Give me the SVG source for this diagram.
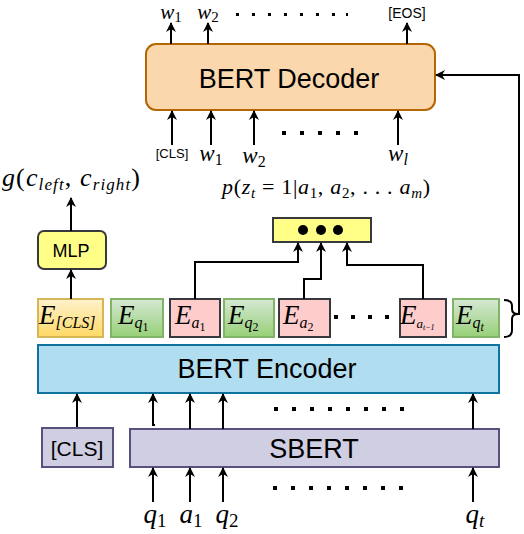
<svg xmlns="http://www.w3.org/2000/svg" width="524" height="534" viewBox="0 0 524 534">
<defs>
<marker id="ah" viewBox="0 0 10 10" refX="9" refY="5" markerWidth="10" markerHeight="10" markerUnits="userSpaceOnUse" orient="auto">
<path d="M0,0 L10,5 L0,10 L3,5 Z" fill="#000"/>
</marker>
<linearGradient id="gy" x1="0" y1="0" x2="0" y2="1"><stop offset="0" stop-color="#fff2cc"/><stop offset="1" stop-color="#ffd966"/></linearGradient>
<linearGradient id="gg" x1="0" y1="0" x2="0" y2="1"><stop offset="0" stop-color="#d5e8d4"/><stop offset="1" stop-color="#97d077"/></linearGradient>
</defs>
<style>
.ln{stroke:#000;stroke-width:2;fill:none}
.ar{stroke:#000;stroke-width:2;fill:none;marker-end:url(#ah)}
.sans{font-family:"Liberation Sans",Arial,sans-serif;fill:#000}
.m{font-family:"Liberation Serif","DejaVu Serif",serif;font-style:italic;fill:#000}
.mr{font-family:"Liberation Serif","DejaVu Serif",serif;font-style:normal}
.eg{fill:url(#gg);stroke:#82b366;stroke-width:2}
.ep{fill:#ffcccc;stroke:#36393d;stroke-width:2}
.dot{fill:#000}
</style>

<g id="decoder">
<rect x="146" y="44" width="289" height="66" rx="10" fill="#fad7ac" stroke="#b46504" stroke-width="2"/>
<text class="sans" x="289" y="88" font-size="27" text-anchor="middle">BERT Decoder</text>
</g>

<g id="decoder-outputs">
<text class="m" x="171" y="19" font-size="21" text-anchor="middle">w<tspan class="mr" font-size="15" dy="3">1</tspan></text>
<text class="m" x="208" y="19" font-size="21" text-anchor="middle">w<tspan class="mr" font-size="15" dy="3">2</tspan></text>
<text class="sans" x="407" y="18" font-size="14" text-anchor="middle">[EOS]</text>
<g class="dot">
<rect x="236" y="13" width="3" height="3"/><rect x="252" y="13" width="3" height="3"/><rect x="268" y="13" width="3" height="3"/><rect x="284" y="13" width="3" height="3"/><rect x="300" y="13" width="3" height="3"/><rect x="316" y="13" width="3" height="3"/><rect x="332" y="13" width="3" height="3"/><rect x="346" y="13" width="2" height="3"/>
</g>
</g>

<g id="decoder-inputs">
<text class="sans" x="172" y="158" font-size="13" text-anchor="middle">[CLS]</text>
<text class="m" x="211" y="161" font-size="23" text-anchor="middle">w<tspan class="mr" font-size="16" dy="4">1</tspan></text>
<text class="m" x="254" y="163" font-size="23" text-anchor="middle">w<tspan class="mr" font-size="16" dy="4">2</tspan></text>
<text class="m" x="398" y="161" font-size="23" text-anchor="middle">w<tspan font-size="16" dy="4">l</tspan></text>
<g class="dot">
<rect x="282" y="131" width="4" height="4"/><rect x="300" y="131" width="4" height="4"/><rect x="318" y="131" width="4" height="4"/><rect x="336" y="131" width="4" height="4"/><rect x="354" y="131" width="4" height="4"/>
</g>
</g>

<g id="prob-label">
<text class="m" x="222" y="194" font-size="22" textLength="208" lengthAdjust="spacing">p<tspan class="mr">(</tspan>z<tspan font-size="15" dy="4">t</tspan><tspan class="mr" dy="-4"> = 1|</tspan>a<tspan class="mr" font-size="15" dy="4">1</tspan><tspan class="mr" dy="-4">, </tspan>a<tspan class="mr" font-size="15" dy="4">2</tspan><tspan class="mr" dy="-4">, . . . </tspan>a<tspan font-size="15" dy="4">m</tspan><tspan class="mr" dy="-4">)</tspan></text>
</g>

<g id="g-label">
<text class="m" x="2" y="186" font-size="26" textLength="138" lengthAdjust="spacing">g<tspan class="mr">(</tspan>c<tspan font-size="17" dy="4">left</tspan><tspan class="mr" dy="-4">, </tspan>c<tspan font-size="17" dy="4">right</tspan><tspan class="mr" dy="-4">)</tspan></text>
</g>

<g id="mlp">
<rect x="38" y="231" width="68" height="38" rx="6" fill="#ffff88" stroke="#36393d" stroke-width="2"/>
<text class="sans" x="71" y="257" font-size="18" text-anchor="middle">MLP</text>
</g>

<g id="pool">
<rect x="273" y="218" width="98" height="24" fill="#ffff88" stroke="#36393d" stroke-width="2"/>
<circle cx="303" cy="230" r="5"/><circle cx="321" cy="230" r="5"/><circle cx="338" cy="230" r="5"/>
</g>

<g id="e-cls">
<rect x="38" y="299" width="65" height="38" fill="url(#gy)" stroke="#d6b656" stroke-width="2"/>
<text class="m" x="39" y="324" font-size="27">E<tspan font-size="16" dy="4">[CLS]</tspan></text>
</g>
<g id="e-q1">
<rect class="eg" x="111" y="299" width="52" height="38"/>
<text class="m" x="118" y="324" font-size="27">E<tspan font-size="16" dy="4">q</tspan><tspan class="mr" font-size="12" dy="3">1</tspan></text>
</g>
<g id="e-a1">
<rect class="ep" x="170" y="299" width="50" height="38"/>
<text class="m" x="175" y="324" font-size="27">E<tspan font-size="16" dy="4">a</tspan><tspan class="mr" font-size="12" dy="3">1</tspan></text>
</g>
<g id="e-q2">
<rect class="eg" x="224" y="299" width="50" height="38"/>
<text class="m" x="228" y="324" font-size="27">E<tspan font-size="16" dy="4">q</tspan><tspan class="mr" font-size="12" dy="3">2</tspan></text>
</g>
<g id="e-a2">
<rect class="ep" x="279" y="299" width="51" height="38"/>
<text class="m" x="283" y="324" font-size="27">E<tspan font-size="16" dy="4">a</tspan><tspan class="mr" font-size="12" dy="3">2</tspan></text>
</g>
<g id="e-dots" class="dot">
<rect x="334" y="315" width="4" height="4"/><rect x="351" y="315" width="4" height="4"/><rect x="368" y="315" width="4" height="4"/><rect x="385" y="315" width="4" height="4"/>
</g>
<g id="e-at1">
<rect class="ep" x="400" y="299" width="46" height="38"/>
<text class="m" x="400" y="324" font-size="27">E<tspan font-size="13" dy="4">a</tspan><tspan font-size="8" dy="2">t−1</tspan></text>
</g>
<g id="e-qt">
<rect class="eg" x="453" y="299" width="46" height="38"/>
<text class="m" x="456" y="324" font-size="27">E<tspan font-size="16" dy="4">q</tspan><tspan font-size="12" dy="3">t</tspan></text>
</g>
<g id="brace">
<path class="ln" d="M504,300 Q512,300 512,306 L512,309 Q512,314 518,314 Q512,314 512,319 L512,330 Q512,337 504,337"/>
</g>

<g id="encoder">
<rect x="38" y="345" width="461" height="48" fill="#b1ddf0" stroke="#10739e" stroke-width="2"/>
<text class="sans" x="267" y="378" font-size="27" text-anchor="middle">BERT Encoder</text>
</g>

<g id="cls-in">
<rect x="42" y="428" width="71" height="39" fill="#d0cee2" stroke="#56517e" stroke-width="2"/>
<text class="sans" x="77" y="456" font-size="21" text-anchor="middle">[CLS]</text>
</g>

<g id="sbert">
<rect x="130" y="429" width="369" height="38" fill="#d0cee2" stroke="#56517e" stroke-width="2"/>
<text class="sans" x="314" y="458" font-size="27" text-anchor="middle">SBERT</text>
</g>

<g id="inputs">
<text class="m" x="155" y="523" font-size="27" text-anchor="middle">q<tspan class="mr" font-size="19" dy="4">1</tspan></text>
<text class="m" x="191" y="523" font-size="27" text-anchor="middle">a<tspan class="mr" font-size="19" dy="4">1</tspan></text>
<text class="m" x="227" y="523" font-size="27" text-anchor="middle">q<tspan class="mr" font-size="19" dy="4">2</tspan></text>
<text class="m" x="475" y="523" font-size="27" text-anchor="middle">q<tspan font-size="19" dy="4">t</tspan></text>
<g class="dot">
<rect x="273" y="486" width="4" height="4"/><rect x="291" y="486" width="4" height="4"/><rect x="309" y="486" width="4" height="4"/><rect x="327" y="486" width="4" height="4"/><rect x="345" y="486" width="4" height="4"/><rect x="363" y="486" width="4" height="4"/><rect x="381" y="486" width="4" height="4"/><rect x="399" y="486" width="4" height="4"/>
</g>
<g class="dot">
<rect x="274" y="407" width="4" height="4"/><rect x="292" y="407" width="4" height="4"/><rect x="310" y="407" width="4" height="4"/><rect x="328" y="407" width="4" height="4"/><rect x="346" y="407" width="4" height="4"/><rect x="364" y="407" width="4" height="4"/><rect x="382" y="407" width="4" height="4"/><rect x="400" y="407" width="4" height="4"/>
</g>
</g>

<g id="connectors">
<line class="ar" x1="171" y1="44" x2="171" y2="23"/>
<line class="ar" x1="208" y1="44" x2="208" y2="23"/>
<line class="ar" x1="407" y1="44" x2="407" y2="23"/>
<line class="ar" x1="172" y1="145" x2="172" y2="111"/>
<line class="ar" x1="211" y1="145" x2="211" y2="111"/>
<line class="ar" x1="254" y1="145" x2="254" y2="111"/>
<line class="ar" x1="398" y1="145" x2="398" y2="111"/>
<line class="ar" x1="71" y1="231" x2="71" y2="198"/>
<line class="ar" x1="71" y1="299" x2="71" y2="270"/>
<polyline class="ar" points="195,299 195,262 298,262 298,243"/>
<polyline class="ar" points="304,299 304,279 321,279 321,243"/>
<polyline class="ar" points="423,299 423,265 347,265 347,243"/>
<polyline class="ar" points="518,314 519,314 519,75 436,75"/>
<line class="ar" x1="77" y1="427" x2="77" y2="394"/>
<polyline class="ar" points="155,425 153,425 153,394"/>
<line class="ar" x1="190" y1="429" x2="190" y2="394"/>
<line class="ar" x1="223" y1="429" x2="223" y2="394"/>
<line class="ar" x1="473" y1="429" x2="473" y2="394"/>
<line class="ar" x1="153" y1="502" x2="153" y2="468"/>
<line class="ar" x1="190" y1="502" x2="190" y2="468"/>
<line class="ar" x1="223" y1="502" x2="223" y2="468"/>
<line class="ar" x1="473" y1="502" x2="473" y2="468"/>
</g>
</svg>
